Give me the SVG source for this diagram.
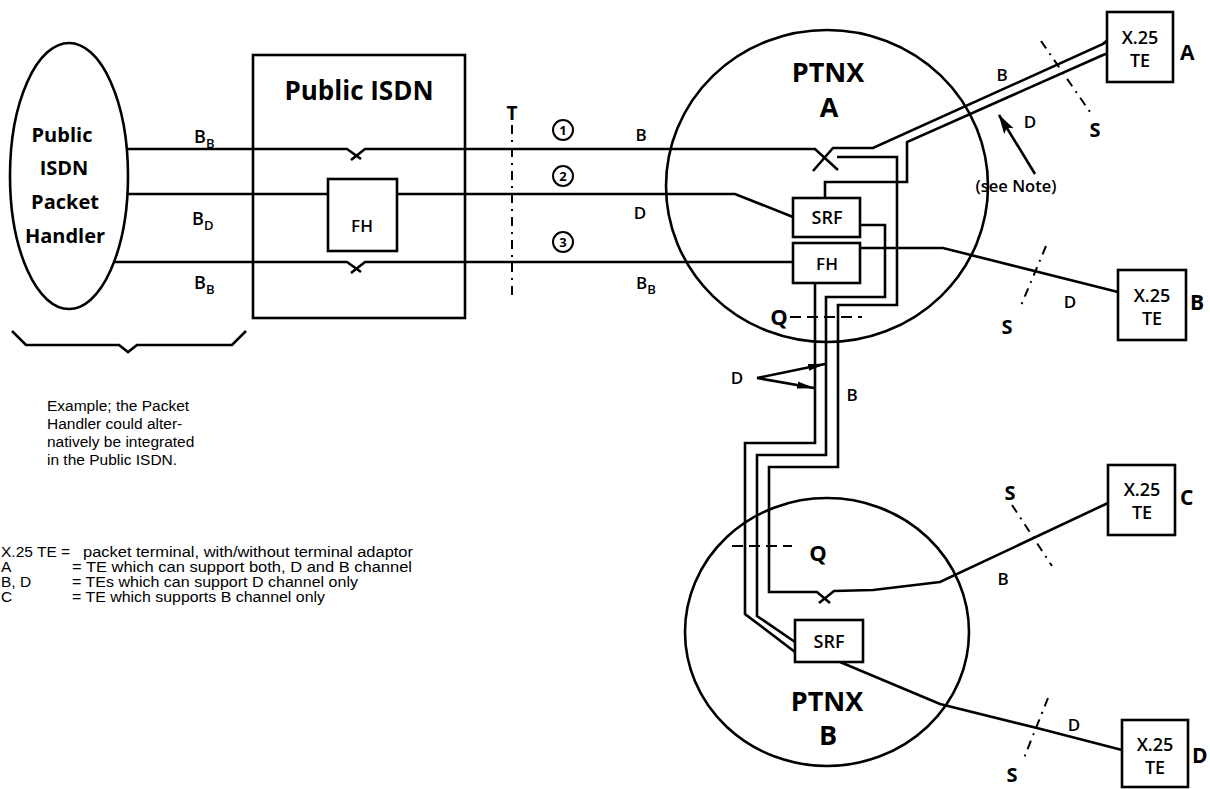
<svg xmlns="http://www.w3.org/2000/svg" width="1210" height="789" viewBox="0 0 1210 789">
<defs>
<marker id="ah" markerWidth="18" markerHeight="10" refX="17" refY="5" orient="auto" markerUnits="userSpaceOnUse"><path d="M0,1.5 L18,5 L0,8.5 Z" fill="#000"/></marker>
<marker id="ah2" markerWidth="20" markerHeight="12" refX="19" refY="6" orient="auto" markerUnits="userSpaceOnUse"><path d="M0,0.5 L20,6 L0,11.5 L4,6 Z" fill="#000"/></marker>
</defs>
<style>
.ln{fill:none;stroke:#000;stroke-width:2.6;stroke-linejoin:miter}
.bx{fill:#fff;stroke:#000;stroke-width:2.6}
.ci{fill:none;stroke:#000;stroke-width:2.6}
.dd{fill:none;stroke:#000;stroke-width:2;stroke-dasharray:9,6,2,6}
.dq{fill:none;stroke:#000;stroke-width:2;stroke-dasharray:11,6}
.bl{font-family:"Open Sans","DejaVu Sans",sans-serif;font-weight:bold;fill:#000}
.lb{font-family:"Open Sans","DejaVu Sans",sans-serif;font-weight:600;fill:#000}
.tx{font-family:"Liberation Sans",Arial,sans-serif;fill:#000;font-size:15.5px}
.mid{text-anchor:middle}
</style>
<rect x="0" y="0" width="1210" height="789" fill="#fff"/>

<g id="connectors">
  <!-- line 1 -->
  <path class="ln" d="M127,149 L347,149 L361,159"/>
  <path class="ln" d="M351,160 L365,149 L815,149 L838,170"/>
  <path class="ln" d="M813,171 L833,148 L873,148 L1103,44 Q1105,42 1107,41"/>
  <!-- line 2 -->
  <path class="ln" d="M128,194 L328,194"/>
  <path class="ln" d="M397,194 L735,194 L793,217"/>
  <!-- line 3 -->
  <path class="ln" d="M114,262 L347,262 L361,272"/>
  <path class="ln" d="M351,273 L365,262 L793,262"/>
  <!-- D from SRF A to TE A -->
  <path class="ln" d="M825,198 L825,182 L907,182 L907,142 L1103,55 Q1105,54 1107,54"/>
  <!-- FH A to TE B -->
  <path class="ln" d="M860,248 L943,248 L1118,292"/>
  <!-- vertical bundle -->
  <path class="ln" d="M815,283 L815,443 L745,443 L745,614 L795,652"/>
  <path class="ln" d="M860,225 L885,225 L885,297 L826,297 L826,455 L757,455 L757,616 L795,642"/>
  <path class="ln" d="M837,157 L897,157 L897,305 L838,305 L838,467 L769,467 L769,592 L817,592 L830,603"/>
  <path class="ln" d="M819,603 L834,591 L873,590 L940,582 L1108,503"/>
  <!-- SRF B to TE D -->
  <path class="ln" d="M840,662 L940,704 L1037,728 L1122,750"/>
  <!-- D arrows -->
  <path class="ln" stroke-width="2" d="M757,378 L825,364" marker-end="url(#ah)"/>
  <path class="ln" stroke-width="2" d="M757,378 L814,388" marker-end="url(#ah)"/>
  <!-- see note arrow -->
  <path class="ln" stroke-width="2.2" d="M1035,174 L999,115" marker-end="url(#ah2)"/>
  <!-- reference points -->
  <path class="dd" d="M512,125 L512,298"/>
  <path class="dd" d="M1041,41 L1090,112"/>
  <path class="dd" d="M1046,246 L1020,308"/>
  <path class="dd" d="M1012,505 L1052,566"/>
  <path class="dd" d="M1048,698 L1024,758"/>
  <path class="dq" d="M790,317 L862,317"/>
  <path class="dq" d="M732,546 L792,546"/>
  <!-- brace -->
  <path class="ln" stroke-width="2" d="M12,331 L26,345 L119,345 L128,352 L137,345 L232,345 L246,331"/>
</g>

<g id="packet-handler">
  <ellipse class="bx" cx="69" cy="176" rx="59" ry="133"/>
  <text class="bl mid" x="62" y="142" font-size="20">Public</text>
  <text class="bl mid" x="64" y="175" font-size="20">ISDN</text>
  <text class="bl mid" x="65" y="209" font-size="20">Packet</text>
  <text class="bl mid" x="65" y="243" font-size="20">Handler</text>
</g>

<g id="public-isdn">
  <rect class="ci" x="253" y="55" width="212" height="263"/>
  <text class="bl mid" x="359" y="100" font-size="26">Public ISDN</text>
</g>
<g id="fh-isdn">
  <rect class="bx" x="328" y="179" width="69" height="72"/>
  <text class="lb mid" x="362" y="232" font-size="17">FH</text>
</g>

<g id="ptnx-a">
  <ellipse class="ci" cx="827" cy="186" rx="161" ry="156"/>
  <text class="bl mid" x="828" y="82" font-size="27">PTNX</text>
  <text class="bl mid" x="829" y="117" font-size="27">A</text>
</g>
<g id="srf-a">
  <rect class="bx" x="793" y="198" width="67" height="39"/>
  <text class="lb mid" x="827" y="224" font-size="18">SRF</text>
</g>
<g id="fh-a">
  <rect class="bx" x="793" y="243" width="67" height="40"/>
  <text class="lb mid" x="827" y="270" font-size="17">FH</text>
</g>

<g id="ptnx-b">
  <ellipse class="ci" cx="827" cy="632" rx="142" ry="134"/>
  <text class="bl mid" x="827" y="711" font-size="27">PTNX</text>
  <text class="bl mid" x="828" y="745" font-size="27">B</text>
</g>
<g id="srf-b">
  <rect class="bx" x="795" y="620" width="68" height="42"/>
  <text class="lb mid" x="829" y="648" font-size="18">SRF</text>
</g>

<g id="te-a">
  <rect class="bx" x="1107" y="12" width="66" height="70"/>
  <text class="lb mid" x="1140" y="44" font-size="18">X.25</text>
  <text class="lb mid" x="1140" y="67" font-size="18">TE</text>
  <text class="bl" x="1180" y="60" font-size="21">A</text>
</g>
<g id="te-b">
  <rect class="bx" x="1118" y="270" width="68" height="70"/>
  <text class="lb mid" x="1152" y="302" font-size="18">X.25</text>
  <text class="lb mid" x="1152" y="325" font-size="18">TE</text>
  <text class="bl" x="1190" y="310" font-size="21">B</text>
</g>
<g id="te-c">
  <rect class="bx" x="1108" y="465" width="67" height="70"/>
  <text class="lb mid" x="1142" y="496" font-size="18">X.25</text>
  <text class="lb mid" x="1142" y="519" font-size="18">TE</text>
  <text class="bl" x="1180" y="505" font-size="21">C</text>
</g>
<g id="te-d">
  <rect class="bx" x="1122" y="720" width="66" height="67"/>
  <text class="lb mid" x="1155" y="751" font-size="18">X.25</text>
  <text class="lb mid" x="1155" y="774" font-size="18">TE</text>
  <text class="bl" x="1192" y="763" font-size="21">D</text>
</g>

<g id="labels">
  <text class="lb" x="194" y="143" font-size="18">B<tspan font-size="13" dy="5">B</tspan></text>
  <text class="lb" x="192" y="225" font-size="18">B<tspan font-size="13" dy="5">D</tspan></text>
  <text class="lb" x="194" y="289" font-size="18">B<tspan font-size="13" dy="5">B</tspan></text>
  <text class="bl mid" x="512" y="120" font-size="19">T</text>
  <circle cx="563" cy="130" r="10" fill="none" stroke="#000" stroke-width="2"/>
  <text class="bl mid" x="563" y="135" font-size="13">1</text>
  <circle cx="563" cy="176" r="10" fill="none" stroke="#000" stroke-width="2"/>
  <text class="bl mid" x="563" y="181" font-size="13">2</text>
  <circle cx="563" cy="242" r="10" fill="none" stroke="#000" stroke-width="2"/>
  <text class="bl mid" x="563" y="247" font-size="13">3</text>
  <text class="lb mid" x="641" y="141" font-size="17">B</text>
  <text class="lb mid" x="640" y="219" font-size="17">D</text>
  <text class="lb" x="636" y="289" font-size="17">B<tspan font-size="13" dy="5">B</tspan></text>
  <text class="lb mid" x="1002" y="81" font-size="17">B</text>
  <text class="lb mid" x="1030" y="128" font-size="17">D</text>
  <text class="bl mid" x="1095" y="137" font-size="20">S</text>
  <text class="lb mid" x="1016" y="192" font-size="16.5">(see Note)</text>
  <text class="lb mid" x="1070" y="308" font-size="17">D</text>
  <text class="bl mid" x="1007" y="334" font-size="20">S</text>
  <text class="bl mid" x="779" y="325" font-size="22">Q</text>
  <text class="lb mid" x="737" y="384" font-size="17">D</text>
  <text class="lb mid" x="852" y="401" font-size="17">B</text>
  <text class="bl mid" x="818" y="561" font-size="22">Q</text>
  <text class="bl mid" x="1010" y="500" font-size="20">S</text>
  <text class="lb mid" x="1003" y="585" font-size="17">B</text>
  <text class="lb mid" x="1074" y="731" font-size="17">D</text>
  <text class="bl mid" x="1012" y="782" font-size="20">S</text>
</g>

<g id="notes">
  <text class="tx" x="47" y="411">Example; the Packet</text>
  <text class="tx" x="47" y="429">Handler could alter-</text>
  <text class="tx" x="47" y="447">natively be integrated</text>
  <text class="tx" x="47" y="465">in the Public ISDN.</text>
  <text class="tx" x="1" y="557">X.25 TE =</text>
  <text class="tx" x="83" y="557" textLength="330" lengthAdjust="spacingAndGlyphs">packet terminal, with/without terminal adaptor</text>
  <text class="tx" x="1" y="572">A</text>
  <text class="tx" x="72" y="572" textLength="340" lengthAdjust="spacingAndGlyphs">=  TE which can support both, D and B channel</text>
  <text class="tx" x="1" y="587">B, D</text>
  <text class="tx" x="72" y="587" textLength="286" lengthAdjust="spacingAndGlyphs">=  TEs which can support D channel only</text>
  <text class="tx" x="1" y="602">C</text>
  <text class="tx" x="72" y="602" textLength="253" lengthAdjust="spacingAndGlyphs">=  TE which supports B channel only</text>
</g>
</svg>
